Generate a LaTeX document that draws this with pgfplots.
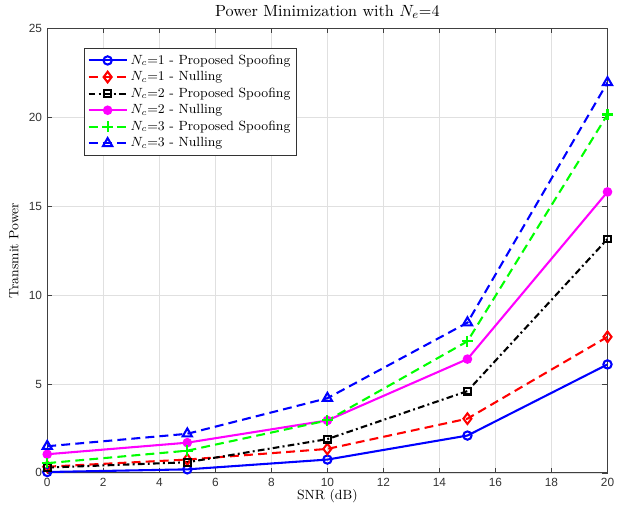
\documentclass[border=0pt]{standalone}
\usepackage{fontspec}
\usepackage{pgfplots}
\pgfplotsset{compat=1.18}
\newfontfamily\tickfont{Liberation Sans}
\definecolor{mblue}{rgb}{0,0,1}
\definecolor{mred}{rgb}{1,0,0}
\definecolor{mgreen}{rgb}{0,1,0}
\definecolor{mmag}{rgb}{1,0,1}

\begin{document}
\begin{tikzpicture}
\begin{axis}[
    scale only axis,
    width=378pt, height=300pt,
    xmin=0, xmax=20, ymin=0, ymax=25,
    xtick={0,2,...,20},
    ytick={0,5,...,25},
    title={Power Minimization with $N_e$=4},
    title style={font=\fontsize{10.9}{13}\selectfont, yshift=-3pt},
    xlabel={SNR (dB)},
    ylabel={Transmit Power},
    xlabel style={font=\small, yshift=5pt},
    ylabel style={font=\small, yshift=0pt},
    tick label style={font=\tickfont\footnotesize, color=black!80},
    /pgf/number format/assume math mode=true,
    grid=major,
    grid style={black!12, line width=0.5pt},
    axis line style={black!75, line width=0.6pt},
    tick style={black!75},
    tick align=inside,
    major tick length=3.5pt,
    legend style={at={(0.066,0.955)}, anchor=north west, font=\small,
        draw=black!80, line width=0.6pt, cells={anchor=west},
        row sep=-0.6pt, inner sep=2pt},
    legend image code/.code={\draw[mark repeat=2, mark phase=2]
        plot coordinates {(0cm,0cm) (0.45cm,0cm) (0.9cm,0cm)};},
    every axis plot/.append style={line width=1.4pt},
]
\addplot[mblue, solid, mark=o, mark size=2.8pt, mark options={solid}]
  coordinates {(0,0.05) (5,0.2) (10,0.75) (15,2.1) (20,6.1)};
\addlegendentry{$N_c$=1 - Proposed Spoofing}
\addplot[mred, dash pattern=on 6pt off 3.5pt, mark=diamond, mark size=3.6pt, mark options={solid}]
  coordinates {(0,0.35) (5,0.75) (10,1.35) (15,3.05) (20,7.65)};
\addlegendentry{$N_c$=1 - Nulling}
\addplot[black, dash pattern=on 4.5pt off 2.2pt on 1.3pt off 2.2pt, mark=square, mark size=2.3pt, mark options={solid}]
  coordinates {(0,0.3) (5,0.6) (10,1.9) (15,4.6) (20,13.15)};
\addlegendentry{$N_c$=2 - Proposed Spoofing}
\addplot[mmag, solid, mark=*, mark size=2.5pt]
  coordinates {(0,1.05) (5,1.7) (10,2.95) (15,6.4) (20,15.8)};
\addlegendentry{$N_c$=2 - Nulling}
\addplot[mgreen, dash pattern=on 6pt off 3.5pt, mark=+, mark size=3.6pt, mark options={solid}]
  coordinates {(0,0.55) (5,1.25) (10,2.95) (15,7.4) (20,20.15)};
\addlegendentry{$N_c$=3 - Proposed Spoofing}
\addplot[mblue, dash pattern=on 6pt off 3.5pt, mark=triangle, mark size=3.6pt, mark options={solid}]
  coordinates {(0,1.5) (5,2.2) (10,4.2) (15,8.45) (20,21.95)};
\addlegendentry{$N_c$=3 - Nulling}
\end{axis}
% white margin to the left and right, as in the reference
\path (current bounding box.west) ++(-3pt,0);
\path (current bounding box.east) ++(2pt,0);
\end{tikzpicture}
\end{document}
